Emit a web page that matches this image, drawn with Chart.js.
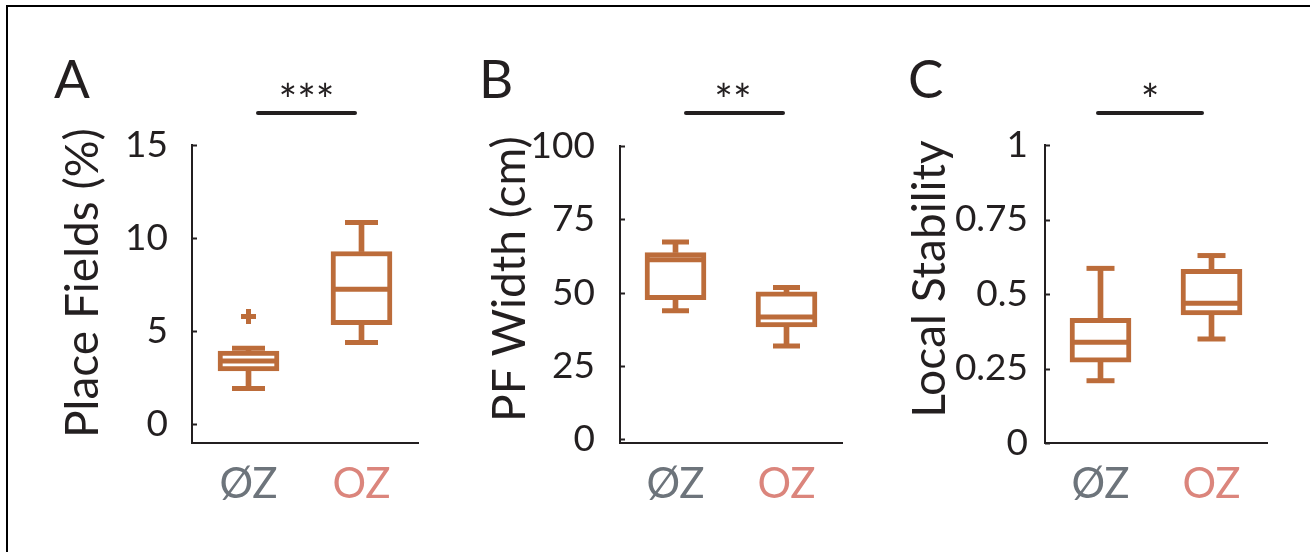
<!DOCTYPE html>
<html>
<head>
<meta charset="utf-8">
<script src="https://cdn.jsdelivr.net/npm/chart.js@4.4.0/dist/chart.umd.min.js"></script>
<style>
  html, body { margin:0; padding:0; background:#fff; width:1310px; height:552px; overflow:hidden; }
  .frame { position:absolute; left:6px; top:5px; width:1304px; height:547px; border-top:2px solid #000; border-left:2px solid #000; box-sizing:border-box; }
  canvas { position:absolute; left:0; top:0; }
</style>
</head>
<body>
<div class="frame"></div>
<canvas id="cA" width="1310" height="552"></canvas>
<canvas id="cB" width="1310" height="552"></canvas>
<canvas id="cC" width="1310" height="552"></canvas>
<script>
// ---------- data ----------
const categories = ['ØZ', 'OZ'];

// Panel A: Place Fields (%)
const placeLowerWhisker = [1.92, 4.40];
const placeQ1          = [2.87, 5.36];
const placeMedian      = [3.40, 7.26];
const placeQ3          = [3.94, 9.28];
const placeUpperWhisker= [4.09, 10.84];
const placeOutliers    = [5.79, null];
const placeTicks       = [0, 5, 10, 15];
const placeTickLabels  = ['0', '5', '10', '15'];

// Panel B: PF Width (cm)
const widthLowerWhisker = [43.8, 31.8];
const widthQ1           = [47.6, 38.3];
const widthMedian       = [61.2, 41.7];
const widthQ3           = [63.7, 50.3];
const widthUpperWhisker = [67.3, 51.8];
const widthOutliers     = [null, null];
const widthTicks        = [0, 25, 50, 75, 100];
const widthTickLabels   = ['0', '25', '50', '75', '100'];

// Panel C: Local Stability
const stabLowerWhisker = [0.209, 0.349];
const stabQ1           = [0.271, 0.430];
const stabMedian       = [0.338, 0.469];
const stabQ3           = [0.418, 0.583];
const stabUpperWhisker = [0.586, 0.629];
const stabOutliers     = [null, null];
const stabTicks        = [0, 0.25, 0.5, 0.75, 1];
const stabTickLabels   = ['0', '0.25', '0.5', '0.75', '1'];

const panelLetters = ['A', 'B', 'C'];
const yTitles = ['Place Fields (%)', 'PF Width (cm)', 'Local Stability'];
const significance = ['***', '**', '*'];

// ---------- style ----------
const FONT = 'Lato';
const BOX = '#bc6c3a';
const AX = '#231f20';
const TXT = '#231f20';
const catColors = ['#6d747b', '#db857c'];
const YW = 100, XH = 60;
const LW = 5;

const decor = {
  id: 'decor',
  afterDraw(chart, args, o) {
    const ctx = chart.ctx, ys = chart.scales.y, area = chart.chartArea;
    ctx.save();
    // inward y ticks
    ctx.strokeStyle = AX; ctx.lineWidth = 2;
    ys.ticks.forEach(t => {
      const py = Math.round(ys.getPixelForValue(t.value)) + 0.5;
      ctx.beginPath(); ctx.moveTo(area.left, py); ctx.lineTo(area.left + 5, py); ctx.stroke();
    });
    // y title
    ctx.fillStyle = TXT;
    ctx.font = '46px ' + FONT;
    ctx.save();
    ctx.translate(o.titleX, o.titleCY);
    ctx.rotate(-Math.PI / 2);
    ctx.textAlign = 'center'; ctx.textBaseline = 'alphabetic';
    ctx.fillText(o.title, 0, 0);
    ctx.restore();
    // significance bar
    ctx.lineWidth = 4; ctx.lineCap = 'round';
    ctx.beginPath(); ctx.moveTo(o.sig[0], o.sigY); ctx.lineTo(o.sig[1], o.sigY); ctx.stroke();
    ctx.font = '44px ' + FONT;
    ctx.textAlign = 'center'; ctx.textBaseline = 'alphabetic';
    ctx.fillText(o.stars, o.starsX, o.starsY);
    // panel letter
    ctx.font = '53px ' + FONT;
    ctx.textAlign = 'left';
    ctx.fillText(o.letter, o.letterX, 98);
    ctx.restore();
  }
};

function makePanel(id, c) {
  const lineDs = (data, style, r) => ({
    type: 'line', data: data, showLine: false, pointStyle: style,
    pointRadius: r, pointHoverRadius: r, borderColor: BOX, backgroundColor: BOX,
    pointBorderColor: BOX, pointBorderWidth: LW, pointHoverBorderWidth: LW, order: 1
  });
  return new Chart(document.getElementById(id), {
    type: 'bar',
    data: {
      labels: categories,
      datasets: [
        { type: 'bar', data: c.q1.map((v, i) => [v, c.q3[i]]), backgroundColor: '#fff',
          borderColor: BOX, borderWidth: LW, borderSkipped: false, barThickness: 61, grouped: false, order: 2 },
        { type: 'bar', data: c.q3.map((v, i) => [v, c.hi[i]]), backgroundColor: BOX,
          borderWidth: 0, barThickness: LW, grouped: false, order: 3 },
        { type: 'bar', data: c.lo.map((v, i) => [v, c.q1[i]]), backgroundColor: BOX,
          borderWidth: 0, barThickness: LW, grouped: false, order: 3 },
        lineDs(c.med, 'line', 28),
        lineDs(c.hi, 'line', c.capR),
        lineDs(c.lo, 'line', c.capR),
        lineDs(c.out, 'cross', 7.5)
      ]
    },
    options: {
      responsive: false, animation: false, events: [],
      layout: { padding: { left: c.left - YW, right: 1310 - c.right, top: c.top, bottom: 552 - c.bottom - XH } },
      plugins: {
        legend: { display: false }, tooltip: { enabled: false },
        decor: c.decor
      },
      scales: {
        x: {
          type: 'category', offset: true,
          grid: { display: false, drawTicks: false },
          border: { display: true, color: AX, width: 2 },
          ticks: { font: { family: FONT, size: 42 }, color: (ctx) => catColors[ctx.index], padding: 16 },
          afterFit: (s) => { s.height = XH; }
        },
        y: {
          min: c.min, max: c.max,
          grid: { display: false, drawTicks: false },
          border: { display: true, color: AX, width: 2 },
          ticks: { font: { family: FONT, size: 37 }, color: TXT, padding: c.tickPad,
                   callback: (v, i) => c.tickLabels[i] },
          afterBuildTicks: (s) => { s.ticks = c.ticks.map(v => ({ value: v })); },
          afterFit: (s) => { s.width = YW; }
        }
      }
    },
    plugins: [decor]
  });
}

makePanel('cA', {
  q1: placeQ1, q3: placeQ3, med: placeMedian, lo: placeLowerWhisker, hi: placeUpperWhisker, out: placeOutliers,
  ticks: placeTicks, tickLabels: placeTickLabels, min: -1, max: 15,
  left: 192, right: 418, top: 145, bottom: 443, tickPad: 24, capR: 16.5,
  decor: { title: yTitles[0], titleX: 98, titleCY: 283, sig: [258, 355], sigY: 113,
           stars: significance[0], starsX: 306.5, starsY: 116, letter: panelLetters[0], letterX: 54 }
});
makePanel('cB', {
  q1: widthQ1, q3: widthQ3, med: widthMedian, lo: widthLowerWhisker, hi: widthUpperWhisker, out: widthOutliers,
  ticks: widthTicks, tickLabels: widthTickLabels, min: -1.25, max: 100,
  left: 620, right: 842, top: 146, bottom: 443, tickPad: 25, capR: 13.5,
  decor: { title: yTitles[1], titleX: 525, titleCY: 279, sig: [686, 783], sigY: 113,
           stars: significance[1], starsX: 733, starsY: 116, letter: panelLetters[1], letterX: 479 }
});
makePanel('cC', {
  q1: stabQ1, q3: stabQ3, med: stabMedian, lo: stabLowerWhisker, hi: stabUpperWhisker, out: stabOutliers,
  ticks: stabTicks, tickLabels: stabTickLabels, min: 0, max: 1,
  left: 1045, right: 1267, top: 145, bottom: 443, tickPad: 17, capR: 14,
  decor: { title: yTitles[2], titleX: 945, titleCY: 279, sig: [1098, 1202], sigY: 113,
           stars: significance[2], starsX: 1150, starsY: 116, letter: panelLetters[2], letterX: 908 }
});
</script>
</body>
</html>
